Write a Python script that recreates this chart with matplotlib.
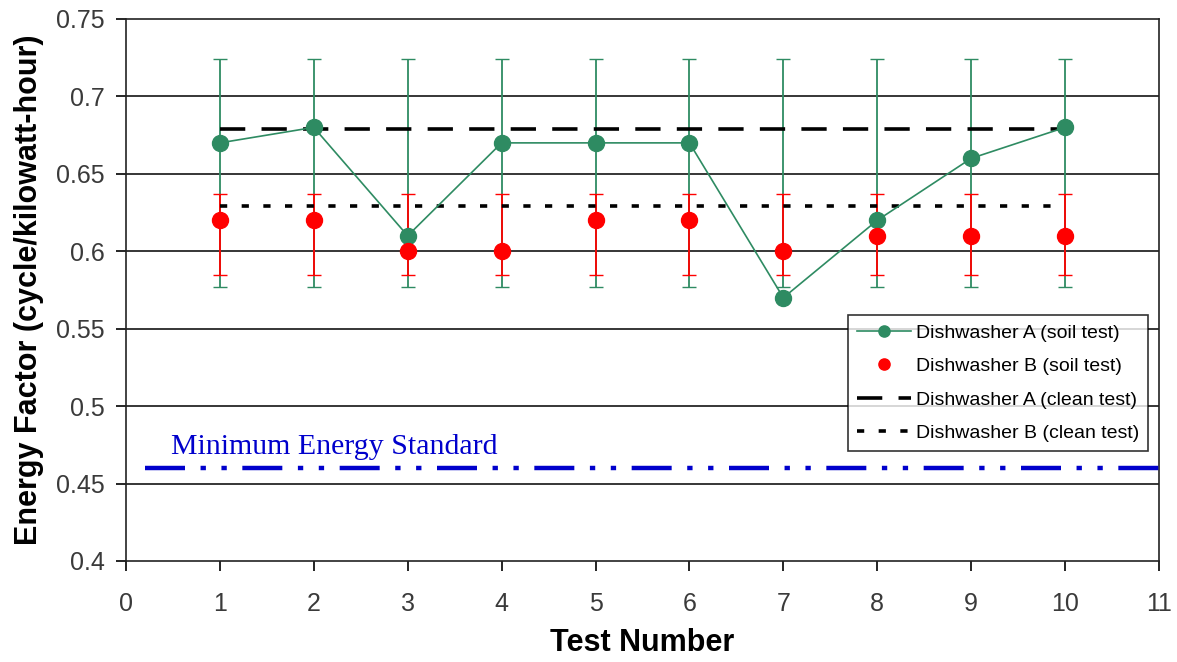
import matplotlib.pyplot as plt
import numpy as np

# data
tests = [1, 2, 3, 4, 5, 6, 7, 8, 9, 10]
soil_a = [0.67, 0.68, 0.61, 0.67, 0.67, 0.67, 0.57, 0.62, 0.66, 0.68]
soil_b = [0.62, 0.62, 0.60, 0.60, 0.62, 0.62, 0.60, 0.61, 0.61, 0.61]
band_a = [0.577, 0.724]     # error bar ends, dishwasher A
band_b = [0.585, 0.637]     # error bar ends, dishwasher B
clean_a = 0.679
clean_b = 0.629
min_standard = 0.46

green = '#2e8b62'
red = '#ff0000'
blue = '#0000cc'

fig = plt.figure(figsize=(11.77, 6.62), dpi=100)
ax = fig.add_axes([0.107, 0.1526, 0.8777, 0.8187])

# error bars span a fixed band at every test
mid_a = np.full(len(tests), (band_a[0] + band_a[1]) / 2)
mid_b = np.full(len(tests), (band_b[0] + band_b[1]) / 2)
half_a = (band_a[1] - band_a[0]) / 2
half_b = (band_b[1] - band_b[0]) / 2

# horizontal gridlines
for g in [0.45, 0.5, 0.55, 0.6, 0.65, 0.7]:
    ax.axhline(g, color='black', lw=1.1, zorder=0)

ax.errorbar(tests, mid_a, yerr=half_a, fmt='none', ecolor=green, elinewidth=1.3,
            capsize=5, capthick=1.0, zorder=2)
ax.errorbar(tests, mid_b, yerr=half_b, fmt='none', ecolor=red, elinewidth=1.3,
            capsize=5, capthick=1.0, zorder=3)

ax.plot([1, 10], [clean_a, clean_a], color='black', lw=2.6,
        linestyle=(0, (7, 4.5)), zorder=4, label='Dishwasher A (clean test)')
ax.plot([1, 10], [clean_b, clean_b], color='black', lw=2.6,
        linestyle=(0, (2, 4)), zorder=4, label='Dishwasher B (clean test)')

ax.plot(tests, soil_a, color=green, lw=1.2, marker='o', ms=11.5,
        markeredgecolor=green, zorder=5, label='Dishwasher A (soil test)')
ax.plot(tests, soil_b, color=red, lw=0, marker='o', ms=11.5,
        markeredgecolor=red, zorder=6, label='Dishwasher B (soil test)')

ax.plot([0.2, 11], [min_standard, min_standard], color=blue, lw=3.2,
        linestyle=(0, (9, 3.5, 1.2, 3.5, 1.2, 3.5)), zorder=4)
ax.text(0.48, 0.469, 'Minimum Energy Standard', color=blue, fontsize=21.5,
        family='Liberation Serif', ha='left', va='baseline')

ax.set_xlim(0, 11)
ax.set_ylim(0.4, 0.75)
ax.set_xticks(range(0, 12))
ax.set_yticks([0.4, 0.45, 0.5, 0.55, 0.6, 0.65, 0.7, 0.75])
ax.set_yticklabels(['0.4', '0.45', '0.5', '0.55', '0.6', '0.65', '0.7', '0.75'])
ax.tick_params(labelsize=18, labelcolor='#3a3a3a', color='black', length=7,
               width=1.2, direction='out')
ax.tick_params(axis='x', pad=15)
ax.tick_params(axis='y', pad=8)
for lab in ax.get_xticklabels() + ax.get_yticklabels():
    lab.set_family('Liberation Sans')
for side in ['left', 'bottom', 'top', 'right']:
    ax.spines[side].set_linewidth(1.2)
    ax.spines[side].set_color('#222222')

ax.set_xlabel('Test Number', fontsize=22, fontweight='bold', family='Liberation Sans', labelpad=9)
ax.set_ylabel('Energy Factor (cycle/kilowatt-hour)', fontsize=22, fontweight='bold',
              family='Liberation Sans', labelpad=9)

handles, labels = ax.get_legend_handles_labels()
order = [2, 3, 0, 1]
leg = ax.legend([handles[i] for i in order], [labels[i] for i in order],
                loc='lower right', bbox_to_anchor=(0.9895, 0.203),
                prop={'family': 'Liberation Sans', 'size': 14},
                frameon=True, fancybox=False, edgecolor='black', handlelength=2.8,
                handletextpad=0.25, borderpad=0.45, labelspacing=0.82,
                borderaxespad=0, markerscale=0.7)
leg.get_frame().set_linewidth(1.2)
leg.set_zorder(10)

fig.savefig('out.png', dpi=100)
